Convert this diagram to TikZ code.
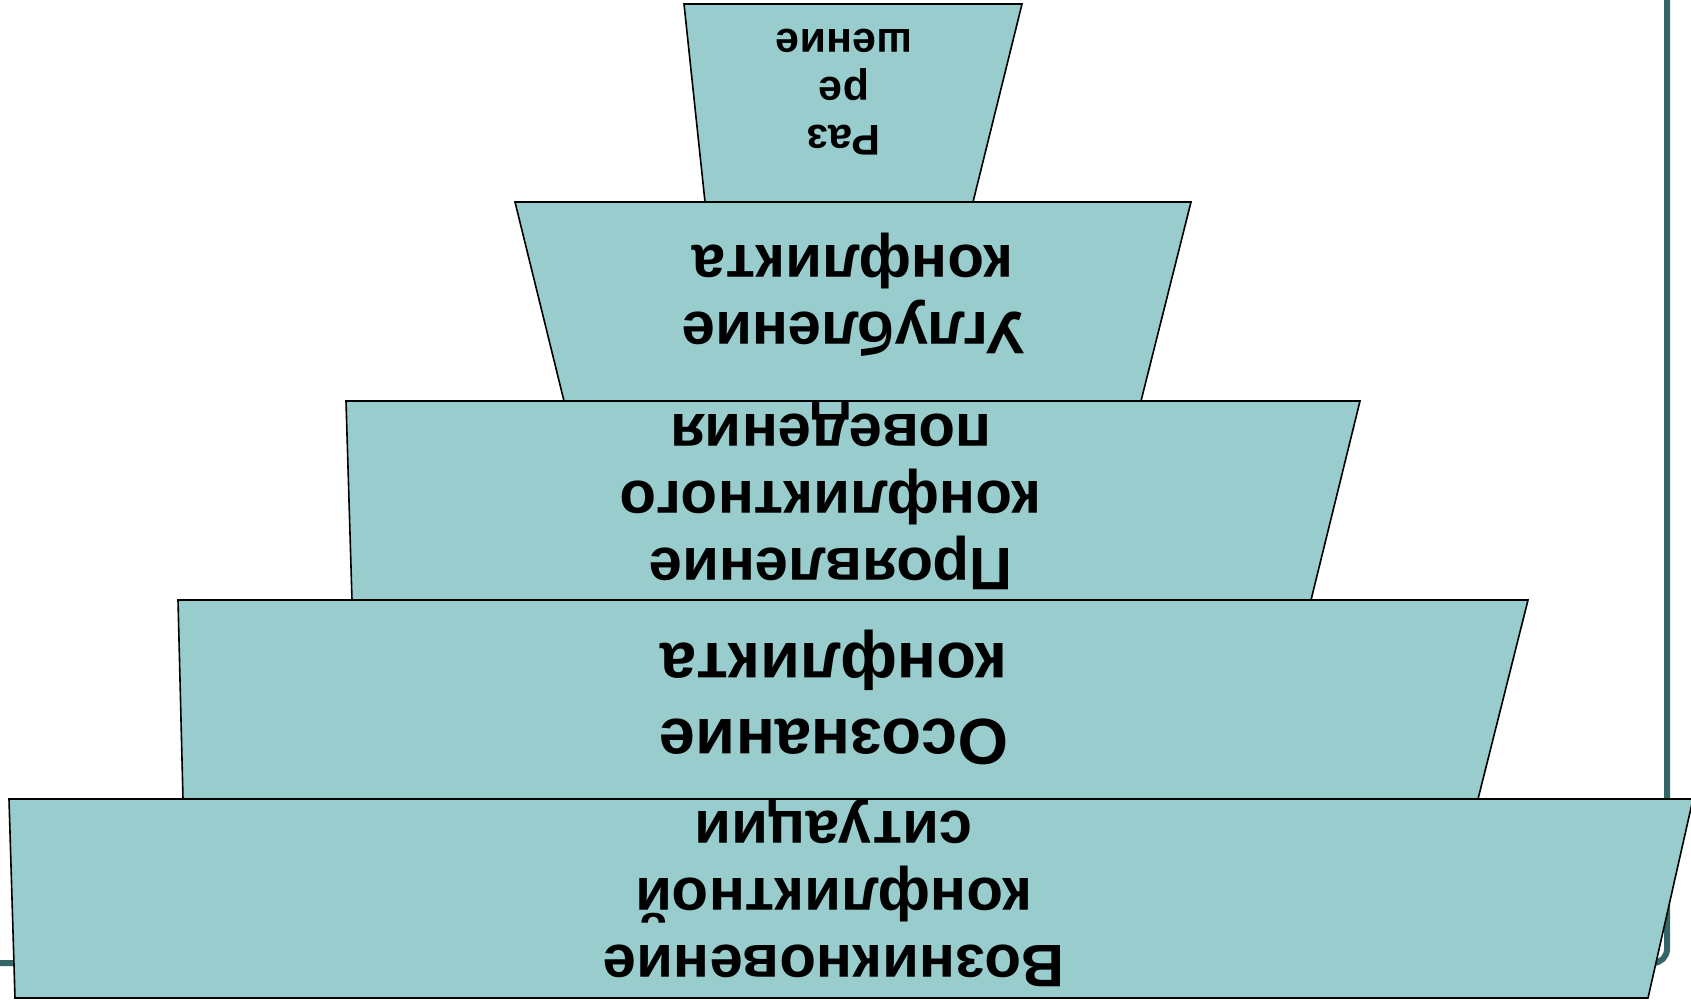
\documentclass[tikz,border=0pt]{standalone}
\usepackage{fontspec}
\setmainfont{Liberation Sans}
\definecolor{tealfill}{RGB}{153,204,204}
\definecolor{framecol}{RGB}{51,102,102}
\begin{document}
\begin{tikzpicture}[x=1pt,y=-1pt,
  level/.style={fill=tealfill,draw=black,line width=1.6pt,line join=miter},
  lbl/.style={rotate=180,align=center,font=\bfseries\fontsize{60}{67}\selectfont,inner sep=0pt},
  lblbig/.style={rotate=180,align=center,font=\bfseries\fontsize{65}{76}\selectfont,inner sep=0pt},
  lblsmall/.style={rotate=180,align=center,font=\bfseries\fontsize{43}{48}\selectfont,inner sep=0pt}]
\useasboundingbox (0,0) rectangle (1691,1000);
% frame remnant
\draw[framecol,line width=6pt,rounded corners=14pt] (0,963) -- (1667,963) -- (1667,-5);
% levels
\path[level] (684,4) -- (1022,4) -- (973,202) -- (705,202) -- cycle;
\path[level] (515,202) -- (1191,202) -- (1141,401) -- (564,401) -- cycle;
\path[level] (346,401) -- (1360,401) -- (1311,600) -- (352,600) -- cycle;
\path[level] (178,600) -- (1528,600) -- (1478,799) -- (183,799) -- cycle;
\path[level] (9,799) -- (1693,799) -- (1648,998) -- (15,998) -- cycle;
% labels
\node[lblsmall] (t1) at (844,92) {Раз\\ре\\шение};
\node[lbl] (t2) at (853,295) {Углубление\\конфликта};
\node[lbl] (t3) at (831,496) {Проявление\\конфликтного\\поведения};
\node[lblbig] (t4) at (834,697) {Осознание\\конфликта};
\node[lbl] (t5) at (834,893) {Возникновение\\конфликтной\\ситуации};
\end{tikzpicture}
\end{document}
